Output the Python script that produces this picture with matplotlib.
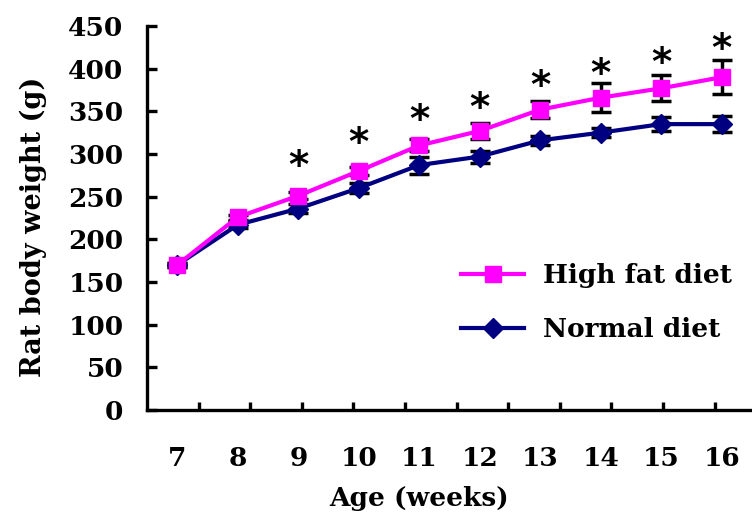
import matplotlib
matplotlib.use("Agg")
import matplotlib.pyplot as plt
import numpy as np

weeks = [7, 8, 9, 10, 11, 12, 13, 14, 15, 16]
week_labels = ["7", "8", "9", "10", "11", "12", "13", "14", "15", "16"]
high_fat = [170, 226, 251, 280, 310, 327, 352, 366, 377, 390]
high_fat_err = [2, 3, 4, 5, 7, 9, 10, 17, 15, 20]
normal = [170, 217, 236, 260, 287, 297, 316, 325, 335, 335]
normal_err = [2, 4, 5, 6, 10, 7, 5, 5, 8, 9]
star_height = [None, None, 293, 320, 347, 361, 387, 401, 414, 430]
y_ticks = [0, 50, 100, 150, 200, 250, 300, 350, 400, 450]

SERIF = "DejaVu Serif"
MAG = "#FF00FF"
NAVY = "#000080"

fig = plt.figure(figsize=(7.52, 5.15), dpi=100)
ax = fig.add_axes([0.1955, 0.204, 0.8045, 0.7455])

x = np.array(weeks, dtype=float)

# error bars (behind)
ax.errorbar(x, high_fat, yerr=high_fat_err, fmt="none", ecolor="black",
            elinewidth=2.5, capsize=7, capthick=2.5, zorder=2)
ax.errorbar(x, normal, yerr=normal_err, fmt="none", ecolor="black",
            elinewidth=2.5, capsize=7, capthick=2.5, zorder=2)

ax.plot(x, normal, color=NAVY, lw=3, marker="D", markersize=10,
        markerfacecolor=NAVY, markeredgecolor=NAVY, zorder=3, label="Normal diet")
ax.plot(x, high_fat, color=MAG, lw=3, marker="s", markersize=12,
        markerfacecolor=MAG, markeredgecolor=MAG, zorder=4, label="High fat diet")

# significance stars
for xi, sh in zip(x, star_height):
    if sh is not None:
        ax.annotate("*", xy=(xi, sh), xytext=(0, -5), textcoords="offset points",
                    ha="center", va="center", fontsize=28,
                    fontweight="bold", family="DejaVu Sans", zorder=5)

ax.set_xlim(6.5, 16.5)
ax.set_ylim(0, 450)

for side in ["top", "right"]:
    ax.spines[side].set_visible(False)
for side in ["left", "bottom"]:
    ax.spines[side].set_linewidth(2.4)

ax.set_yticks(y_ticks)
ax.set_yticklabels([str(v) for v in y_ticks], family=SERIF, fontweight="bold", fontsize=19)
ax.tick_params(axis="y", direction="in", length=7, width=2.4, pad=17)

# x tick marks (unlabelled, as in the reference) and category labels
tick_marks = 6.5 + np.arange(1, 12) * 0.853
ax.set_xticks(tick_marks)
ax.set_xticklabels([])
ax.tick_params(axis="x", direction="in", length=6, width=2.4)
for xi, lab in zip(x, week_labels):
    ax.text(xi, -57, lab, ha="center", va="center", family=SERIF,
            fontsize=19, fontweight="bold", clip_on=False)

ax.text(11.0, -104, "Age (weeks)", ha="center", va="center", family=SERIF,
        fontsize=19, fontweight="bold", clip_on=False)
fig.text(0.044, 0.56, "Rat body weight (g)", rotation=90, ha="center", va="center",
         family=SERIF, fontsize=19.5, fontweight="bold")

handles, labels = ax.get_legend_handles_labels()
leg = ax.legend(handles[::-1], labels[::-1], loc="upper left",
                bbox_to_anchor=(0.48, 0.445), frameon=False,
                prop={"family": SERIF, "weight": "bold", "size": 19},
                handlelength=2.4, labelspacing=1.1, handletextpad=0.7)

fig.savefig("out.png", dpi=100)
